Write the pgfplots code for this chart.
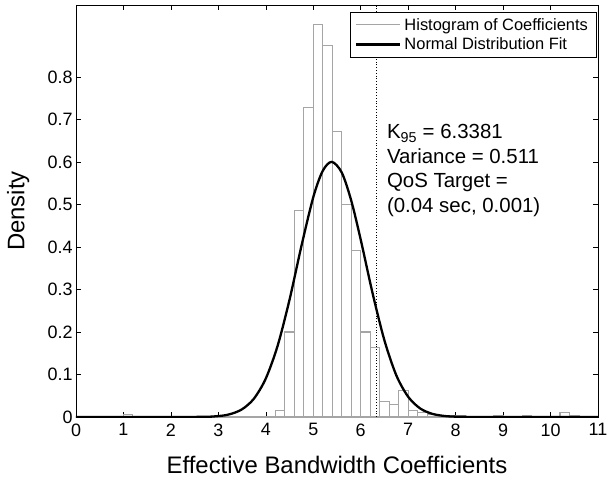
\documentclass[border=0pt]{standalone}
\usepackage{fontspec}
\setmainfont{Liberation Sans}
\usepackage{pgfplots}
\pgfplotsset{compat=1.18}
\definecolor{histgray}{RGB}{165,165,165}
\begin{document}
\begin{tikzpicture}
\begin{axis}[
  at={(0,0)}, anchor=south west,
  scale only axis, width=522bp, height=412bp,
  xmin=0, xmax=11, ymin=0, ymax=0.969,
  xtick={0,1,2,3,4,5,6,7,8,9,10,11},
  ytick={0,0.1,0.2,0.3,0.4,0.5,0.6,0.7,0.8},
  tick align=inside, major tick length=5bp,
  tick style={black, line width=0.6bp},
  axis line style={black, line width=0.8bp},
  /pgf/number format/assume math mode=true,
  ticklabel style={font=\fontsize{18}{20}\selectfont},
  xticklabel style={yshift=-3bp},
  yticklabel style={/pgf/number format/fixed, /pgf/number format/precision=1},
  xlabel={Effective Bandwidth Coefficients},
  ylabel={Density},
  label style={font=\fontsize{24}{27}\selectfont},
  xlabel style={at={(axis description cs:0.5,-0.1165)}, anchor=center},
  ylabel style={at={(axis description cs:-0.1105,0.5)}, anchor=center},
  legend style={at={(0.997,0.983)}, anchor=north east, draw=black, line width=0.8bp,
    fill=white, font=\fontsize{16.5}{19}\selectfont, inner xsep=5bp, inner ysep=2.5bp,
    row sep=0bp, nodes={inner sep=3.2bp}},
  legend cell align=left,
  legend image code/.code={\draw[#1] (0bp,0bp) -- (44bp,0bp);},
]
\addplot[ybar interval, draw=histgray, fill=white, line width=1.1bp, forget plot] coordinates {
(1.0,0.006) (1.2,0) (1.4,0) (1.6,0) (1.8,0) (2.0,0) (2.2,0) (2.4,0) (2.6,0) (2.8,0)
(3.0,0) (3.2,0) (3.4,0) (3.6,0) (3.8,0) (4.0,0)
(4.2,0.015) (4.4,0.200) (4.6,0.485) (4.8,0.728) (5.0,0.924) (5.2,0.873)
(5.4,0.671) (5.6,0.499) (5.8,0.391) (6.0,0.200) (6.2,0.164) (6.4,0.036)
(6.6,0.030) (6.8,0.062) (7.0,0.016) (7.2,0.010) (7.4,0.006) (7.6,0)
(7.8,0.004) (8.0,0.004) (8.2,0) (8.4,0) (8.6,0) (8.8,0.004) (9.0,0) (9.2,0)
(9.4,0.004) (9.6,0) (9.8,0) (10.0,0) (10.2,0.010) (10.4,0.004) (10.6,0)
};
\addplot[black, line width=2.3bp, smooth, forget plot] coordinates {
(0,0) (2.5,0.0002) (3.0,0.0022) (3.25,0.0068) (3.5,0.0182) (3.75,0.0432)
(4.0,0.0906) (4.25,0.168) (4.5,0.276) (4.75,0.402) (5.0,0.517) (5.2,0.579)
(5.39,0.600) (5.6,0.575) (5.8,0.509) (6.0,0.417) (6.25,0.291) (6.5,0.180)
(6.75,0.098) (7.0,0.0475) (7.25,0.0203) (7.5,0.0077) (7.75,0.0026)
(8.0,0.0008) (8.5,0.0001) (11,0)
};
\addplot[black, dotted, line width=0.8bp, forget plot] coordinates {(6.3381,0) (6.3381,0.969)};
\addlegendimage{histgray, line width=1.1bp}
\addlegendentry{Histogram of Coefficients}
\addlegendimage{black, line width=2.3bp}
\addlegendentry{Normal Distribution Fit}
\node[anchor=north west, align=left, inner sep=0pt,
  font=\fontsize{20.5}{24.5}\selectfont] at (axis cs:6.55,0.688)
  {K\textsubscript{95} = 6.3381\\Variance = 0.511\\QoS Target =\\(0.04 sec, 0.001)};
\end{axis}
\pgfresetboundingbox
\path[use as bounding box] (-76bp,-62bp) rectangle (532bp,417bp);
\end{tikzpicture}
\end{document}
